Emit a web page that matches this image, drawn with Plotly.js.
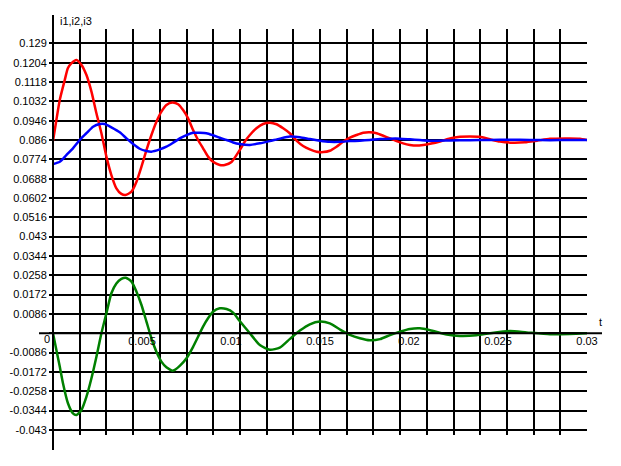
<!DOCTYPE html>
<html>
<head>
<meta charset="utf-8">
<script src="https://cdn.plot.ly/plotly-3.0.1.min.js"></script>
<style>html,body{margin:0;padding:0;background:#fff;}#chart{width:621px;height:466px;}</style>
</head>
<body>
<div id="chart"></div>
<script>
// ---- data ----
const redT = [0,0.00019,0.00038,0.00066,0.00084,0.00103,0.00132,0.0016,0.00188,0.00216,0.00244,0.00272,0.003,0.00328,0.00356,0.00384,0.00407,0.00441,0.00469,0.00497,0.00525,0.00553,0.00581,0.00609,0.00637,0.00671,0.00703,0.00731,0.00759,0.00787,0.00815,0.00843,0.00871,0.00899,0.00937,0.00965,0.01003,0.01049,0.01077,0.01106,0.01143,0.0118,0.01218,0.01256,0.01293,0.0133,0.01368,0.01405,0.01443,0.01481,0.01518,0.01555,0.01593,0.0163,0.01668,0.01705,0.01743,0.0178,0.01818,0.01855,0.01893,0.0193,0.01967,0.02005,0.02043,0.0208,0.02118,0.02174,0.0223,0.02286,0.02342,0.02398,0.02455,0.02511,0.02584,0.02651,0.02719,0.02792,0.02876,0.0296,0.03];
const redV = [0.0855,0.0949,0.1038,0.1127,0.118,0.1201,0.1216,0.1194,0.1149,0.1075,0.0979,0.089,0.0786,0.0704,0.0645,0.062,0.0615,0.063,0.0674,0.0741,0.0815,0.0882,0.0941,0.0986,0.1016,0.1027,0.1019,0.0993,0.0956,0.0904,0.086,0.0823,0.0786,0.0763,0.0749,0.0749,0.0762,0.0815,0.0852,0.0882,0.0912,0.0931,0.0937,0.093,0.0912,0.089,0.0857,0.0833,0.0818,0.0808,0.0806,0.0812,0.083,0.0852,0.087,0.0882,0.0892,0.0894,0.089,0.0879,0.0867,0.0855,0.0845,0.0838,0.0835,0.0838,0.0843,0.0853,0.0867,0.0874,0.0876,0.0874,0.0863,0.0853,0.0848,0.085,0.0857,0.0865,0.0867,0.0866,0.086];

const blueT = [0,0.00038,0.00075,0.00112,0.0015,0.00188,0.00225,0.00263,0.00291,0.00328,0.00375,0.00413,0.0045,0.00487,0.00525,0.00553,0.006,0.00637,0.00675,0.00712,0.0075,0.00787,0.00825,0.00862,0.00899,0.00937,0.00975,0.01012,0.01049,0.01106,0.01162,0.01218,0.01274,0.01331,0.01387,0.01443,0.01499,0.01555,0.01612,0.01668,0.01724,0.0178,0.01837,0.01893,0.01949,0.02005,0.02061,0.02118,0.0223,0.02342,0.02454,0.02567,0.02679,0.02792,0.02904,0.03];
const blueV = [0.0753,0.0763,0.0793,0.0823,0.086,0.089,0.0919,0.0931,0.0931,0.0916,0.0894,0.0867,0.0842,0.0821,0.0811,0.0808,0.0818,0.083,0.0848,0.0867,0.0882,0.0892,0.0892,0.089,0.0881,0.087,0.086,0.0849,0.0842,0.0838,0.0845,0.0855,0.0866,0.0875,0.0872,0.0864,0.0857,0.0852,0.0852,0.0855,0.0857,0.086,0.0864,0.0866,0.0866,0.0863,0.086,0.0857,0.0858,0.0859,0.086,0.0861,0.086,0.0859,0.086,0.086];

const greenT = [0,0.00019,0.00038,0.00056,0.00084,0.00112,0.00132,0.0016,0.00188,0.00216,0.00244,0.00272,0.003,0.00328,0.00356,0.00384,0.00409,0.00441,0.00469,0.00497,0.00525,0.00553,0.00581,0.00609,0.00637,0.00675,0.00712,0.0075,0.00787,0.00815,0.00843,0.00871,0.00899,0.00937,0.00975,0.01012,0.01049,0.01106,0.01162,0.01218,0.01274,0.01331,0.01387,0.01443,0.01499,0.01555,0.01612,0.01668,0.01724,0.0178,0.01837,0.01893,0.01949,0.02005,0.02061,0.02118,0.02212,0.02286,0.02379,0.02454,0.02567,0.02661,0.02792,0.02904,0.03];
const greenV = [0,-0.0074,-0.0148,-0.0222,-0.0311,-0.0356,-0.0363,-0.0341,-0.0282,-0.02,-0.0104,0,0.0089,0.0178,0.0222,0.0242,0.0247,0.023,0.0185,0.0126,0.0052,-0.0022,-0.0082,-0.0126,-0.0151,-0.0166,-0.0145,-0.0111,-0.006,-0.0015,0.003,0.0067,0.0096,0.0111,0.0108,0.0092,0.0055,0.0,-0.0052,-0.0073,-0.0064,-0.0025,0.0012,0.004,0.0052,0.0044,0.0017,-0.0007,-0.0022,-0.0031,-0.0026,-0.0008,0.0007,0.0019,0.0022,0.0014,-0.0005,-0.0012,-0.0009,0,0.001,0.0004,-0.0004,-0.0003,0];

const yTickVals = [0.129,0.1204,0.1118,0.1032,0.0946,0.086,0.0774,0.0688,0.0602,0.0516,0.043,0.0344,0.0258,0.0172,0.0086,0,-0.0086,-0.0172,-0.0258,-0.0344,-0.043];
const yTickText = ["0.129","0.1204","0.1118","0.1032","0.0946","0.086","0.0774","0.0688","0.0602","0.0516","0.043","0.0344","0.0258","0.0172","0.0086","","-0.0086","-0.0172","-0.0258","-0.0344","-0.043"];
const xTickVals = [0.005,0.01,0.015,0.02,0.025,0.03];
const xTickText = ["0.005","0.01","0.015","0.02","0.025","0.03"];
const yAxisTitle = "i1,i2,i3";
const xAxisTitle = "t";

// ---- layout ----
const W = 621, H = 466;
const mL = 53, mR = 34, mT = 29, mB = 31;
const plotW = W - mL - mR, plotH = H - mT - mB;
const yMin = -0.04524, yMax = 0.13537;
const zeroFrac = (0 - yMin) / (yMax - yMin);
const px2fx = p => (p - mL) / plotW;
const py2fy = p => (H - mB - p) / plotH;

const font = {family: "Liberation Sans, Arial, sans-serif", size: 11, color: "#000"};
const lineW = 2.5;

const traces = [
  {x: redT, y: redV, mode: "lines", line: {color: "#ff0000", width: lineW, shape: "spline", smoothing: 0.6}, hoverinfo: "skip"},
  {x: blueT, y: blueV, mode: "lines", line: {color: "#0000ff", width: lineW, shape: "spline", smoothing: 0.6}, hoverinfo: "skip"},
  {x: greenT, y: greenV, mode: "lines", line: {color: "#008000", width: lineW, shape: "spline", smoothing: 0.6}, hoverinfo: "skip"},
  {x: [], y: [], xaxis: "x2", yaxis: "y", mode: "lines", hoverinfo: "skip"}
];

const layout = {
  width: W, height: H,
  margin: {l: mL, r: mR, t: mT, b: mB, pad: 0},
  paper_bgcolor: "#fff", plot_bgcolor: "#fff",
  showlegend: false,
  font: font,
  xaxis: {
    range: [0, 0.03], tick0: 0, dtick: 0.0015, tickmode: "linear",
    showgrid: true, gridcolor: "#000", gridwidth: 2,
    zeroline: false, showline: false, showticklabels: false, ticks: "",
    fixedrange: true
  },
  xaxis2: {
    overlaying: "x", anchor: "free", position: zeroFrac, side: "bottom",
    range: [0, 0.03], tickmode: "array", tickvals: xTickVals, ticktext: xTickText,
    showgrid: false, zeroline: false, showline: false,
    ticks: "",
    tickfont: font, fixedrange: true
  },
  yaxis: {
    range: [yMin, yMax], tickmode: "array", tickvals: yTickVals, ticktext: yTickText,
    showgrid: true, gridcolor: "#000", gridwidth: 2,
    zeroline: false, showline: false,
    ticks: "outside", ticklen: 3, tickwidth: 2, tickcolor: "#000",
    tickfont: font, fixedrange: true
  },
  shapes: [
    {type: "line", xref: "paper", yref: "paper", x0: 0, x1: 0, y0: py2fy(450), y1: py2fy(15), line: {color: "#000", width: 2}},
    {type: "line", xref: "paper", yref: "paper", x0: px2fx(39), x1: px2fx(602), y0: zeroFrac, y1: zeroFrac, line: {color: "#000", width: 2}}
  ],
  annotations: [
    {text: yAxisTitle, xref: "paper", yref: "paper", x: px2fx(58), y: py2fy(21), xanchor: "left", yanchor: "middle", showarrow: false, font: font},
    {text: xAxisTitle, xref: "paper", yref: "paper", x: px2fx(600), y: py2fy(322), xanchor: "center", yanchor: "middle", showarrow: false, font: font},
    {text: "0", xref: "x", yref: "y", x: 0, y: 0, xanchor: "right", yanchor: "middle", xshift: -1, yshift: -6, showarrow: false, font: font}
  ]
};

Plotly.newPlot("chart", traces, layout, {staticPlot: true, displayModeBar: false});
</script>
</body>
</html>
